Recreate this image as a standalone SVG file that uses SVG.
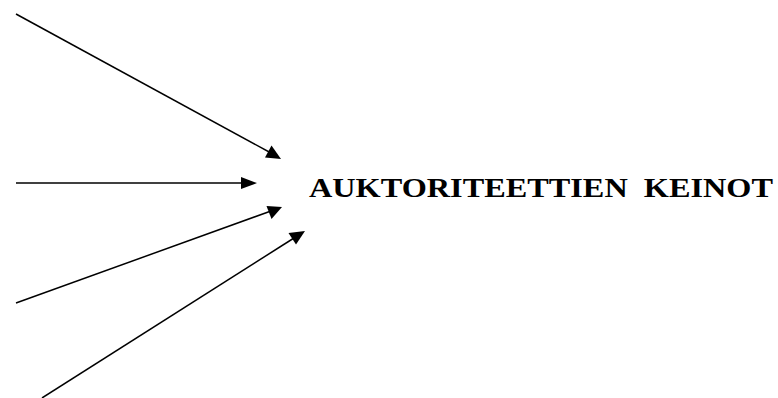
<svg xmlns="http://www.w3.org/2000/svg" width="778" height="398" viewBox="0 0 778 398">
<defs>
<style>
.c{stroke:#000;stroke-width:1.5;fill:none}
.t{font-family:"Liberation Serif","Times New Roman",serif;font-weight:bold;font-size:27px;fill:#000;white-space:pre}
</style>
</defs>
<rect width="778" height="398" fill="#fff"/>
<g id="connectors">
<line class="c" x1="16" y1="14" x2="271" y2="153"/>
<polygon points="281,159 265,157.5 271.5,145.5" fill="#000"/>
<line class="c" x1="16" y1="183" x2="244" y2="183"/>
<polygon points="257,183 241,177 241,189" fill="#000"/>
<line class="c" x1="16" y1="303" x2="271" y2="211"/>
<polygon points="282,207 271.5,219 266.5,206" fill="#000"/>
<line class="c" x1="42" y1="398" x2="294" y2="238"/>
<polygon points="305,231 296,244.5 288.5,233" fill="#000"/>
</g>
<g id="node-keinot">
<text class="t" x="309" y="197" textLength="464" lengthAdjust="spacingAndGlyphs" xml:space="preserve">AUKTORITEETTIEN  KEINOT</text>
</g>
</svg>
